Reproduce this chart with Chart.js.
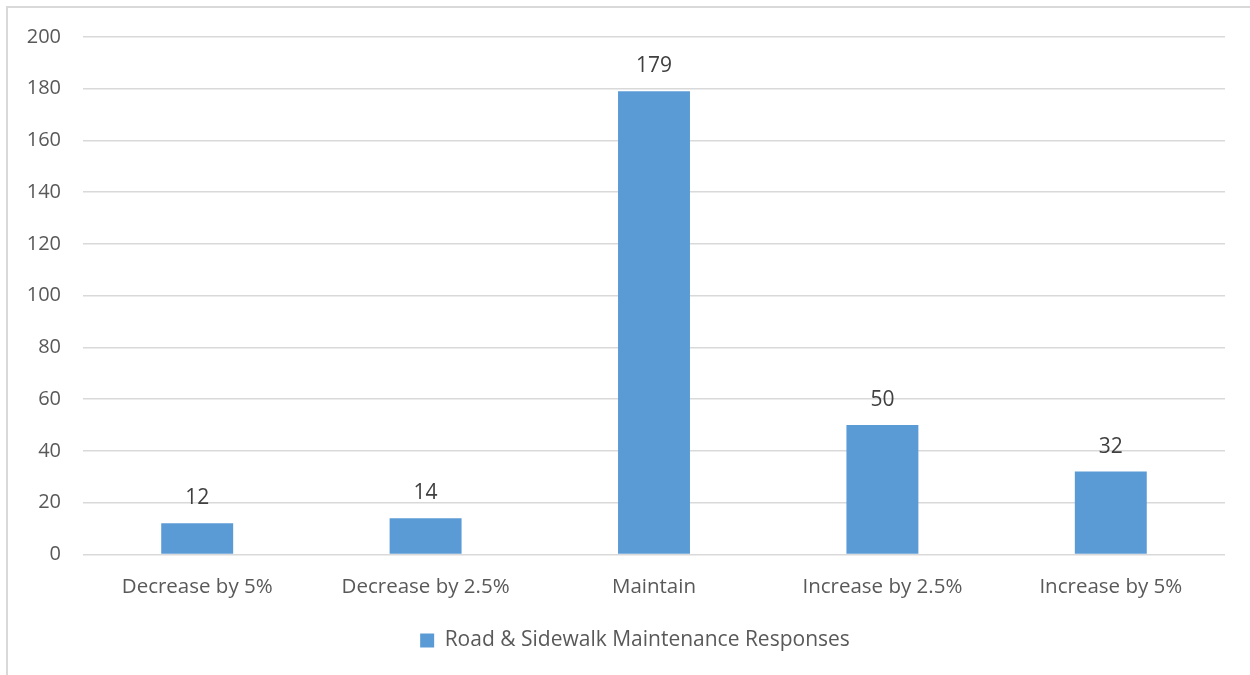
<!DOCTYPE html>
<html><head><meta charset="utf-8">
<script src="https://cdn.jsdelivr.net/npm/chart.js@4"></script>
<style>
html,body{margin:0;padding:0;background:#fff;width:1250px;height:675px;overflow:hidden;}
#frame{position:absolute;left:6px;top:6px;width:1300px;height:720px;border:2px solid #d9d9d9;box-sizing:border-box;}
#wrap{position:absolute;left:0;top:0;width:1250px;height:675px;}
</style></head><body>
<div id="frame"></div>
<div id="wrap"><canvas id="c" width="1250" height="675"></canvas></div>
<script>
const categories = ["Decrease by 5%","Decrease by 2.5%","Maintain","Increase by 2.5%","Increase by 5%"];
const responses = [12,14,179,50,32];
const seriesName = "Road & Sidewalk Maintenance Responses";
const yTicks = [0,20,40,60,80,100,120,140,160,180,200];

const FONT = "'Open Sans', 'Liberation Sans', sans-serif";
const labelPlugin = {
  id:'barLabels',
  afterDatasetsDraw(chart){
    const ctx = chart.ctx;
    const meta = chart.getDatasetMeta(0);
    ctx.save();
    ctx.font = "21px " + FONT;
    ctx.fillStyle = "#404040";
    ctx.textAlign = "center";
    ctx.textBaseline = "middle";
    meta.data.forEach((bar,i)=>{
      ctx.fillText(String(responses[i]), bar.x, bar.y - 25);
    });
    ctx.restore();
  }
};

new Chart(document.getElementById('c'),{
  type:'bar',
  data:{labels:categories,datasets:[{label:seriesName,data:responses,backgroundColor:'#5B9BD5',borderWidth:0,categoryPercentage:1,barPercentage:0.315}]},
  options:{
    responsive:false,animation:false,
    layout:{padding:{top:37,right:0,left:20,bottom:14}},
    plugins:{
      legend:{position:'bottom',labels:{color:'#595959',font:{family:FONT,size:21},boxWidth:14,boxHeight:14,padding:19}},
      tooltip:{enabled:false}
    },
    scales:{
      x:{grid:{display:false},border:{display:false},
         ticks:{color:'#595959',font:{family:FONT,size:20.5},padding:12,maxRotation:0}},
      y:{min:0,max:200,afterBuildTicks(s){s.ticks=yTicks.map(v=>({value:v}));},
         afterFit(s){s.width=63;},
         grid:{color:'#d9d9d9',lineWidth:1.5,drawTicks:false},border:{display:false},
         ticks:{color:'#595959',font:{family:FONT,size:20},padding:22}},
      yRight:{position:'right',display:true,min:0,max:200,afterFit(s){s.width=25;},
         grid:{display:false},border:{display:false},ticks:{display:false}}
    }
  },
  plugins:[labelPlugin]
});
</script>
</body></html>
